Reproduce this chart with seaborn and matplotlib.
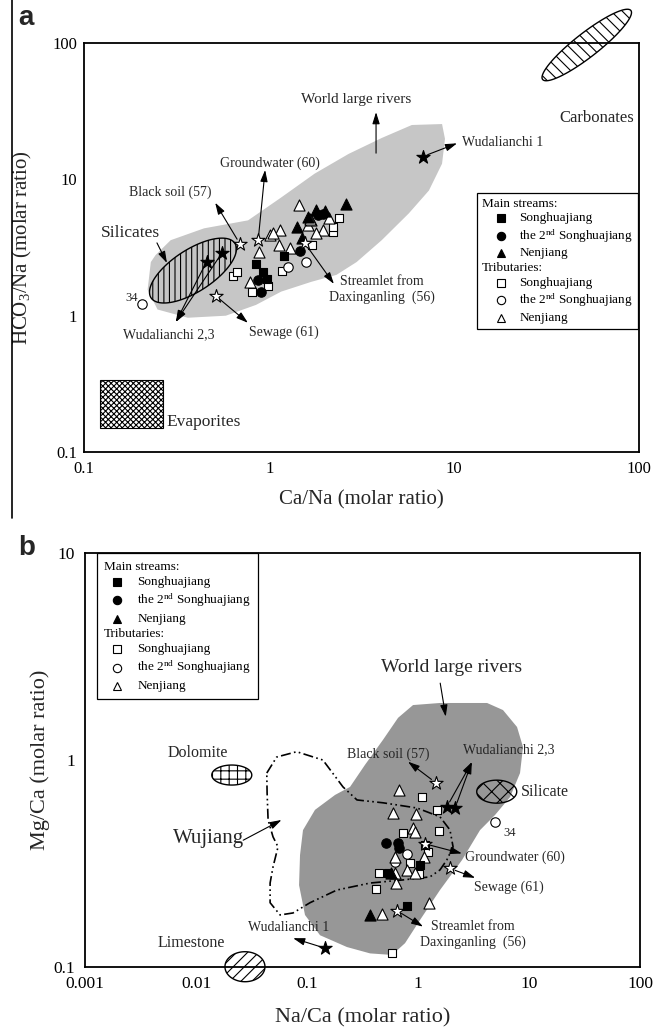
import numpy as np
import pandas as pd
import matplotlib
matplotlib.use("Agg")
import matplotlib.pyplot as plt
import seaborn as sns
from matplotlib.patches import Polygon, Rectangle
from matplotlib.lines import Line2D
from matplotlib.offsetbox import AnchoredOffsetbox, VPacker, HPacker, TextArea, DrawingArea
from matplotlib.ticker import LogLocator, NullFormatter

# ---------------- DATA: panel a (Ca/Na vs HCO3/Na) ----------------
a_main_song_x = [0.844, 0.928, 0.968, 1.20]
a_main_song_y = [2.38, 2.10, 1.86, 2.74]
a_main_2nd_x = [0.90, 0.874, 1.47, 1.84, 1.96]
a_main_2nd_y = [1.50, 1.83, 2.98, 5.46, 5.53]
a_main_nen_x = [2.59, 1.42, 1.62, 1.50, 1.80, 2.00]
a_main_nen_y = [6.57, 4.48, 5.31, 3.69, 5.94, 5.87]
a_trib_song_x = [0.638, 0.667, 0.809, 0.988, 1.18, 1.71, 2.22, 2.22, 2.39]
a_trib_song_y = [1.96, 2.10, 1.50, 1.66, 2.12, 3.29, 4.12, 4.48, 5.16]
a_trib_2nd_x = [0.204, 1.26, 1.59]
a_trib_2nd_y = [1.22, 2.28, 2.48]
a_trib_nen_x = [0.879, 1.45, 1.01, 1.14, 1.05, 1.13, 1.29, 1.62, 1.69, 1.96, 2.11, 0.787, 1.80, 1.66]
a_trib_nen_y = [2.94, 6.46, 3.90, 4.24, 4.01, 3.29, 3.11, 4.61, 5.02, 4.24, 5.16, 1.77, 4.01, 5.08]
a_wuda23_x = [0.459, 0.553]
a_wuda23_y = [2.49, 2.86]
a_wuda1_x = [6.75]
a_wuda1_y = [14.6]
a_end_names = ["Black soil (57)", "Groundwater (60)", "Sewage (61)", "Streamlet (56)"]
a_end_x = [0.695, 0.872, 0.513, 1.56]
a_end_y = [3.35, 3.58, 1.40, 3.39]
# World large rivers field (panel a)
a_world_x = [0.229, 0.220, 0.249, 0.363, 0.583, 0.849, 1.16, 1.69, 2.31, 2.97, 4.06, 5.69, 7.31,
             8.61, 8.93, 8.61, 5.91, 4.06, 2.69, 1.76, 1.16, 0.769, 0.444, 0.293, 0.243]
a_world_y = [2.47, 1.55, 1.11, 0.966, 1.0, 1.20, 1.50, 1.77, 1.99, 2.47, 3.57, 5.61, 8.25,
             12.97, 19.7, 25.3, 24.9, 20.0, 15.3, 10.96, 7.33, 4.99, 4.36, 3.57, 2.78]
# end-member fields (panel a)
a_silicates_center = (0.387, 2.14)
a_carbonates_center = (52.2, 95.9)
a_evap_x = [0.1216, 0.2655]
a_evap_y = [0.151, 0.338]

# ---------------- DATA: panel b (Na/Ca vs Mg/Ca) ----------------
b_main_song_x = [1.04, 0.791, 0.539, 1.15]
b_main_song_y = [0.310, 0.197, 0.283, 0.388]
b_main_2nd_x = [0.515, 0.665, 0.675]
b_main_2nd_y = [0.395, 0.398, 0.374]
b_main_nen_x = [0.370, 0.568]
b_main_nen_y = [0.178, 0.285]
b_trib_song_x = [1.08, 1.47, 1.56, 0.728, 1.24, 0.848, 0.448, 0.419, 0.583, 1.03]
b_trib_song_y = [0.660, 0.573, 0.455, 0.442, 0.360, 0.316, 0.283, 0.237, 0.117, 0.281]
b_trib_2nd_x = [0.791, 0.621, 4.94]
b_trib_2nd_y = [0.351, 0.322, 0.503]
b_trib_nen_x = [0.679, 0.598, 0.959, 0.895, 0.940, 0.621, 0.791, 1.13, 0.621, 0.634, 0.471, 1.256, 0.940]
b_trib_nen_y = [0.716, 0.556, 0.548, 0.470, 0.450, 0.340, 0.294, 0.338, 0.283, 0.255, 0.180, 0.203, 0.283]
b_wuda23_x = [1.82, 2.15]
b_wuda23_y = [0.594, 0.584]
b_wuda1_x = [0.145]
b_wuda1_y = [0.123]
b_end_names = ["Black soil (57)", "Groundwater (60)", "Sewage (61)", "Streamlet (56)"]
b_end_x = [1.45, 1.16, 1.94, 0.643]
b_end_y = [0.776, 0.393, 0.299, 0.187]
b_world_x = [0.902, 1.578, 4.19, 5.83, 7.80, 8.83, 8.30, 6.75, 4.94, 3.62, 2.49, 1.578, 1.04, 0.764,
             0.583, 0.370, 0.229, 0.131, 0.0959, 0.0848, 0.0865, 0.0920, 0.118, 0.179, 0.244, 0.333,
             0.484, 0.661]
b_world_y = [1.845, 1.888, 1.888, 1.745, 1.445, 1.156, 0.865, 0.662, 0.542, 0.458, 0.328, 0.235, 0.168,
             0.130, 0.114, 0.116, 0.1245, 0.142, 0.178, 0.248, 0.347, 0.458, 0.574, 0.678, 0.741, 0.948,
             1.253, 1.60]
b_wujiang_x = [0.0434, 0.0533, 0.0807, 0.139, 0.211, 0.282, 0.484, 0.979, 1.578, 1.94, 2.07, 1.82,
               1.578, 1.28, 0.733, 0.370, 0.186, 0.1064, 0.0748, 0.0572, 0.0465, 0.0465, 0.0494,
               0.0548, 0.0494, 0.0446, 0.0437, 0.0434]
b_wujiang_y = [0.865, 1.034, 1.097, 1.0, 0.741, 0.641, 0.621, 0.586, 0.531, 0.459, 0.380, 0.329,
               0.294, 0.272, 0.263, 0.254, 0.235, 0.204, 0.182, 0.178, 0.204, 0.254, 0.304,
               0.380, 0.425, 0.513, 0.693, 0.865]
b_dolomite_center = (0.0210, 0.846)
b_silicate_center = (5.12, 0.703)
b_limestone_center = (0.0276, 0.100)

legend_items = [
    ("header", None, None, "Main streams:"),
    ("s", "black", 5.3, "Songhuajiang"),
    ("o", "black", 6.0, r"the 2$^{\mathrm{nd}}$ Songhuajiang"),
    ("^", "black", 6.3, "Nenjiang"),
    ("header", None, None, "Tributaries:"),
    ("s", "white", 5.3, "Songhuajiang"),
    ("o", "white", 6.0, r"the 2$^{\mathrm{nd}}$ Songhuajiang"),
    ("^", "white", 6.3, "Nenjiang"),
]

# ---------------- STYLE ----------------
sns.set_theme(style="white")
SERIF = "Liberation Serif"
plt.rcParams.update({
    "font.family": [SERIF, "DejaVu Serif"],
    "mathtext.fontset": "custom",
    "mathtext.rm": SERIF,
    "mathtext.it": SERIF + ":italic",
    "mathtext.bf": SERIF + ":bold",
    "axes.edgecolor": "black",
    "axes.linewidth": 1.3,
    "hatch.linewidth": 0.8,
    "xtick.color": "black",
    "ytick.color": "black",
})

fig = plt.figure(figsize=(6.54, 10.27), dpi=100)
axa = fig.add_axes([0.1289, 0.5596, 0.8481, 0.3990])
axb = fig.add_axes([0.1300, 0.0587, 0.8486, 0.4025])

ARROW = dict(arrowstyle="-|>,head_length=0.7,head_width=0.22", color="black", lw=0.8,
             shrinkA=4, shrinkB=0, mutation_scale=10)


def setup_axis(ax, xlim, ylim, xt, yt, tickfs, padx, pady):
    ax.set_xscale("log")
    ax.set_yscale("log")
    ax.set_xlim(*xlim)
    ax.set_ylim(*ylim)
    ax.set_xticks(xt)
    ax.set_xticklabels([f"{v:g}" for v in xt])
    ax.set_yticks(yt)
    ax.set_yticklabels([f"{v:g}" for v in yt])
    ax.xaxis.set_minor_locator(LogLocator(base=10, subs=np.arange(2, 10)))
    ax.yaxis.set_minor_locator(LogLocator(base=10, subs=np.arange(2, 10)))
    ax.xaxis.set_minor_formatter(NullFormatter())
    ax.yaxis.set_minor_formatter(NullFormatter())
    ax.tick_params(which="both", direction="in", top=False, right=False, width=1.0, labelsize=tickfs)
    ax.tick_params(which="major", length=6)
    ax.tick_params(which="minor", length=3)
    ax.tick_params(axis="x", pad=padx)
    ax.tick_params(axis="y", pad=pady)
    for s in ax.spines.values():
        s.set_visible(True)
        s.set_color("black")
        s.set_linewidth(1.3)
    ax.grid(False)
    ax.set_facecolor("white")


def ellipse_data(ax, center, a_px, b_px, ang_deg, n=160):
    t = np.linspace(0, 2 * np.pi, n)
    c = ax.transData.transform(center)
    th = np.deg2rad(ang_deg)
    ex = c[0] + a_px * np.cos(t) * np.cos(th) - b_px * np.sin(t) * np.sin(th)
    ey = c[1] + a_px * np.cos(t) * np.sin(th) + b_px * np.sin(t) * np.cos(th)
    return ax.transData.inverted().transform(np.column_stack([ex, ey]))


def add_ellipse(ax, center, a_px, b_px, ang, hatch, clip=True):
    pts = ellipse_data(ax, center, a_px, b_px, ang)
    p = Polygon(pts, closed=True, facecolor="none", edgecolor="black", lw=1.0, hatch=hatch,
                zorder=2, clip_on=clip)
    ax.add_patch(p)


def scatter_group(ax, x, y, marker, fc, size, z=3):
    sns.scatterplot(x=np.asarray(x), y=np.asarray(y), marker=marker, s=size, color=fc,
                    edgecolor="black", linewidth=0.8, ax=ax, legend=False, zorder=z)


def build_legend(ax, anchor, loc, fs, sep, mk_off, txt_off, pad):
    rows = []
    for m, fc, ms, lab in legend_items:
        tp = dict(size=fs, family=SERIF, color="black")
        if m == "header":
            rows.append(TextArea(lab, textprops=tp))
        else:
            da = DrawingArea(txt_off, fs * 0.8, 0, 0)
            da.add_artist(Line2D([mk_off], [fs * 0.4], marker=m, ms=ms, mfc=fc, mec="black",
                                 mew=0.8, ls="none"))
            rows.append(HPacker(children=[da, TextArea(lab, textprops=tp)], align="center",
                                pad=0, sep=0))
    vp = VPacker(children=rows, align="left", pad=0, sep=sep)
    box = AnchoredOffsetbox(loc=loc, child=vp, pad=pad, borderpad=0, frameon=True,
                            bbox_to_anchor=anchor, bbox_transform=ax.transAxes,
                            prop=dict(size=fs))
    box.patch.set_boxstyle("square", pad=0)
    box.patch.set_edgecolor("black")
    box.patch.set_linewidth(0.9)
    box.zorder = 6
    ax.add_artist(box)


# ====================== PANEL A ======================
setup_axis(axa, (0.1, 100), (0.1, 100), [0.1, 1, 10, 100], [0.1, 1, 10, 100], 12, 6, 5)
axa.add_patch(Polygon(np.column_stack([a_world_x, a_world_y]), closed=True,
                      facecolor="#c6c6c6", edgecolor="none", zorder=1))
add_ellipse(axa, a_silicates_center, 50, 21, 33, "|||")
add_ellipse(axa, a_carbonates_center, 56, 12, 38, "\\\\\\", clip=False)
axa.add_patch(Rectangle((a_evap_x[0], a_evap_y[0]), a_evap_x[1] - a_evap_x[0],
                        a_evap_y[1] - a_evap_y[0], facecolor="white", edgecolor="black",
                        lw=0.8, hatch="xxxxxx", zorder=2))

scatter_group(axa, a_trib_song_x, a_trib_song_y, "s", "white", 38)
scatter_group(axa, a_trib_2nd_x, a_trib_2nd_y, "o", "white", 46)
scatter_group(axa, a_trib_nen_x, a_trib_nen_y, "^", "white", 64)
scatter_group(axa, a_main_song_x, a_main_song_y, "s", "black", 38)
scatter_group(axa, a_main_2nd_x, a_main_2nd_y, "o", "black", 46)
scatter_group(axa, a_main_nen_x, a_main_nen_y, "^", "black", 64)
scatter_group(axa, a_end_x, a_end_y, "*", "white", 100, z=4)
scatter_group(axa, a_wuda23_x + a_wuda1_x, a_wuda23_y + a_wuda1_y, "*", "black", 100, z=4)

fsA = 10
axa.text(0.490, 0.862, "World large rivers", transform=axa.transAxes, fontsize=11, ha="center", va="center")
axa.annotate("", xy=(0.526, 0.830), xycoords="axes fraction", xytext=(0.526, 0.730),
             textcoords="axes fraction", arrowprops=dict(ARROW, shrinkA=0))
axa.text(0.924, 0.815, "Carbonates", transform=axa.transAxes, fontsize=12, ha="center", va="center")
axa.text(0.681, 0.755, "Wudalianchi 1", transform=axa.transAxes, fontsize=fsA, ha="left", va="center")
axa.annotate("", xy=(0.672, 0.754), xycoords="axes fraction",
             xytext=(a_wuda1_x[0], a_wuda1_y[0]), textcoords="data", arrowprops=ARROW)
axa.text(0.0826, 0.535, "Silicates", transform=axa.transAxes, fontsize=12.5, ha="center", va="center")
axa.annotate("", xy=(0.149, 0.462), xycoords="axes fraction", xytext=(0.131, 0.511),
             textcoords="axes fraction", arrowprops=dict(ARROW, shrinkA=0))
axa.text(0.155, 0.635, "Black soil (57)", transform=axa.transAxes, fontsize=fsA, ha="center", va="center")
axa.annotate("", xy=(0.236, 0.609), xycoords="axes fraction", xytext=(a_end_x[0], a_end_y[0]),
             textcoords="data", arrowprops=ARROW)
axa.text(0.335, 0.706, "Groundwater (60)", transform=axa.transAxes, fontsize=fsA, ha="center", va="center")
axa.annotate("", xy=(0.326, 0.689), xycoords="axes fraction", xytext=(a_end_x[1], a_end_y[1]),
             textcoords="data", arrowprops=ARROW)
axa.text(0.537, 0.398, "Streamlet from\nDaxinganling  (56)", transform=axa.transAxes, fontsize=fsA,
         ha="center", va="center", linespacing=1.25)
axa.annotate("", xy=(0.450, 0.411), xycoords="axes fraction", xytext=(a_end_x[3], a_end_y[3]),
             textcoords="data", arrowprops=ARROW)
axa.text(0.297, 0.292, "Sewage (61)", transform=axa.transAxes, fontsize=fsA, ha="left", va="center")
axa.annotate("", xy=(0.295, 0.316), xycoords="axes fraction", xytext=(a_end_x[2], a_end_y[2]),
             textcoords="data", arrowprops=ARROW)
axa.text(0.152, 0.286, "Wudalianchi 2,3", transform=axa.transAxes, fontsize=fsA, ha="center", va="center")
for i in range(2):
    axa.annotate("", xy=(0.165, 0.318), xycoords="axes fraction",
                 xytext=(a_wuda23_x[i], a_wuda23_y[i]), textcoords="data", arrowprops=ARROW)
axa.text(0.097, 0.376, "34", transform=axa.transAxes, fontsize=9, ha="right", va="center")
axa.text(0.149, 0.074, "Evaporites", transform=axa.transAxes, fontsize=12.5, ha="left", va="center")

axa.set_xlabel("Ca/Na (molar ratio)", fontsize=15)
axa.set_ylabel(r"HCO$_3$/Na (molar ratio)", fontsize=15)
axa.xaxis.set_label_coords(0.5, -0.092)
axa.yaxis.set_label_coords(-0.090, 0.5)
build_legend(axa, (0.998, 0.633), "upper right", 9.5, 2.0, 14.0, 27, 0.35)

# ====================== PANEL B ======================
setup_axis(axb, (0.001, 100), (0.1, 10), [0.001, 0.01, 0.1, 1, 10, 100], [0.1, 1, 10], 12.5, 7, 7)
axb.add_patch(Polygon(np.column_stack([b_world_x, b_world_y]), closed=True,
                      facecolor="#979797", edgecolor="none", zorder=1))
axb.plot(b_wujiang_x, b_wujiang_y, color="black", lw=1.2, ls=(0, (6, 2, 1, 2, 1, 2)), zorder=2)
add_ellipse(axb, b_dolomite_center, 20, 10, 0, "++")
add_ellipse(axb, b_silicate_center, 20, 11.5, 0, "xx")
add_ellipse(axb, b_limestone_center, 20, 15, 0, "///", clip=False)

scatter_group(axb, b_trib_song_x, b_trib_song_y, "s", "white", 38)
scatter_group(axb, b_trib_2nd_x, b_trib_2nd_y, "o", "white", 46)
scatter_group(axb, b_trib_nen_x, b_trib_nen_y, "^", "white", 64)
scatter_group(axb, b_main_song_x, b_main_song_y, "s", "black", 38)
scatter_group(axb, b_main_2nd_x, b_main_2nd_y, "o", "black", 46)
scatter_group(axb, b_main_nen_x, b_main_nen_y, "^", "black", 64)
scatter_group(axb, b_end_x, b_end_y, "*", "white", 100, z=4)
scatter_group(axb, b_wuda23_x + b_wuda1_x, b_wuda23_y + b_wuda1_y, "*", "black", 100, z=4)

fsB = 10
axb.text(0.661, 0.723, "World large rivers", transform=axb.transAxes, fontsize=14, ha="center", va="center")
axb.annotate("", xy=(0.650, 0.605), xycoords="axes fraction", xytext=(0.640, 0.686),
             textcoords="axes fraction", arrowprops=dict(ARROW, shrinkA=0))
axb.text(0.546, 0.514, "Black soil (57)", transform=axb.transAxes, fontsize=fsB, ha="center", va="center")
axb.annotate("", xy=(0.582, 0.496), xycoords="axes fraction", xytext=(b_end_x[0], b_end_y[0]),
             textcoords="data", arrowprops=ARROW)
axb.text(0.764, 0.524, "Wudalianchi 2,3", transform=axb.transAxes, fontsize=fsB, ha="center", va="center")
for i in range(2):
    axb.annotate("", xy=(0.697, 0.495), xycoords="axes fraction",
                 xytext=(b_wuda23_x[i], b_wuda23_y[i]), textcoords="data", arrowprops=ARROW)
axb.text(0.786, 0.423, "Silicate", transform=axb.transAxes, fontsize=11.5, ha="left", va="center")
axb.text(0.753, 0.323, "34", transform=axb.transAxes, fontsize=9, ha="left", va="center")
axb.text(0.685, 0.265, "Groundwater (60)", transform=axb.transAxes, fontsize=fsB, ha="left", va="center")
axb.annotate("", xy=(0.679, 0.274), xycoords="axes fraction", xytext=(b_end_x[1], b_end_y[1]),
             textcoords="data", arrowprops=ARROW)
axb.text(0.701, 0.193, "Sewage (61)", transform=axb.transAxes, fontsize=fsB, ha="left", va="center")
axb.annotate("", xy=(0.703, 0.215), xycoords="axes fraction", xytext=(b_end_x[2], b_end_y[2]),
             textcoords="data", arrowprops=ARROW)
axb.text(0.699, 0.079, "Streamlet from\nDaxinganling  (56)", transform=axb.transAxes, fontsize=fsB,
         ha="center", va="center", linespacing=1.25)
axb.annotate("", xy=(0.609, 0.097), xycoords="axes fraction", xytext=(b_end_x[3], b_end_y[3]),
             textcoords="data", arrowprops=ARROW)
axb.text(0.366, 0.096, "Wudalianchi 1", transform=axb.transAxes, fontsize=fsB, ha="center", va="center")
axb.annotate("", xy=(0.375, 0.069), xycoords="axes fraction", xytext=(b_wuda1_x[0], b_wuda1_y[0]),
             textcoords="data", arrowprops=ARROW)
axb.text(0.191, 0.057, "Limestone", transform=axb.transAxes, fontsize=11.5, ha="center", va="center")
axb.text(0.203, 0.518, "Dolomite", transform=axb.transAxes, fontsize=11.5, ha="center", va="center")
axb.text(0.223, 0.311, "Wujiang", transform=axb.transAxes, fontsize=15, ha="center", va="center")
axb.annotate("", xy=(0.354, 0.355), xycoords="axes fraction", xytext=(0.285, 0.306),
             textcoords="axes fraction", arrowprops=dict(ARROW, shrinkA=0))

axb.set_xlabel("Na/Ca (molar ratio)", fontsize=16)
axb.set_ylabel("Mg/Ca (molar ratio)", fontsize=16)
axb.xaxis.set_label_coords(0.5, -0.100)
axb.yaxis.set_label_coords(-0.064, 0.5)
build_legend(axb, (0.0216, 1.0), "upper left", 9.5, 2.5, 9.4, 23.8, 0.55)

# panel letters and scan border line
fig.text(18 / 654, 1 - 18 / 1027, "a", fontsize=20, fontweight="bold", family="Liberation Sans",
         ha="left", va="center")
fig.text(18 / 654, 1 - 548 / 1027, "b", fontsize=20, fontweight="bold", family="Liberation Sans",
         ha="left", va="center")
fig.add_artist(Line2D([12 / 654, 12 / 654], [1.0, 1 - 518 / 1027], transform=fig.transFigure,
                      color="black", lw=1.2))

fig.savefig("out.png", dpi=100)
